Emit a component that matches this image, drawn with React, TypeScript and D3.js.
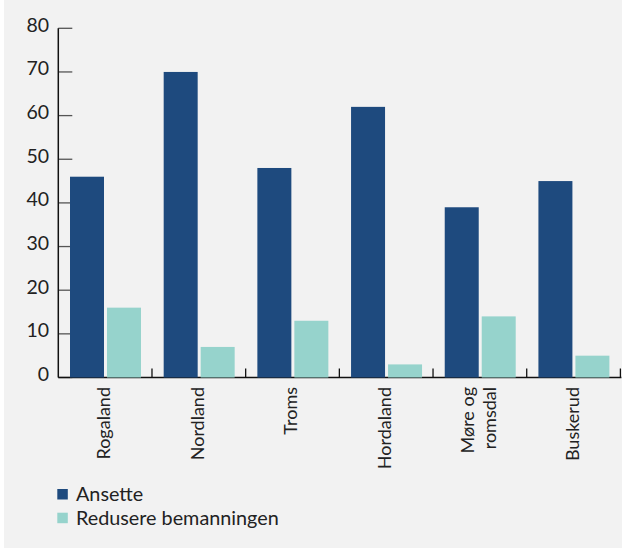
import React from "react";
import * as d3 from "d3";

// Categories (counties) and the two series shown per county
const counties = ["Rogaland", "Nordland", "Troms", "Hordaland", "Møre og romsdal", "Buskerud"];
const countyLines = [["Rogaland"], ["Nordland"], ["Troms"], ["Hordaland"], ["Møre og", "romsdal"], ["Buskerud"]];
const seriesNames = ["Ansette", "Redusere bemanningen"];
const ansette = [46, 70, 48, 62, 39, 45];
const redusere = [16, 7, 13, 3, 14, 5];
const yTicks = [0, 10, 20, 30, 40, 50, 60, 70, 80];
const colors = ["#1e4a7e", "#96d3cc"];

const W = 622;
const H = 549;
const FONT = "Lato, 'DejaVu Sans', sans-serif";

export default function App() {
  const left = 58.3;
  const right = 620.4;
  const top = 28.3;
  const bottom = 377.5;

  const x0 = d3.scaleBand<string>().domain(counties).range([left, right]).padding(0);
  const bw = x0.bandwidth();
  const x1 = d3
    .scaleBand<string>()
    .domain(seriesNames)
    .range([11.7, bw - 11])
    .paddingInner(3 / 37)
    .paddingOuter(0);
  const y = d3.scaleLinear().domain([0, 80]).range([bottom, top]);

  const values = [ansette, redusere];
  const boundaries = counties.map((c) => (x0(c) as number) + bw);

  return (
    <svg
      width={W}
      height={H}
      style={{ position: "absolute", left: 0, top: 0, display: "block" }}
      fontFamily={FONT}
    >
      <rect x={0} y={0} width={W} height={H} fill="#ffffff" />
      <rect x={4} y={0} width={W - 4} height={H - 1} fill="#f2f2f2" />

      {/* y axis ticks pointing into the plot */}
      {yTicks.map((t) => (
        <g key={t}>
          <line x1={left} x2={left + 14} y1={y(t)} y2={y(t)} stroke="#555" strokeWidth={1.3} />
          <text x={49} y={y(t) + 3.5} textAnchor="end" fontSize={19.5} fill="#222">
            {t}
          </text>
        </g>
      ))}

      {/* x axis baseline and category separators */}
      <line x1={left} x2={right + 1} y1={bottom} y2={bottom} stroke="#111" strokeWidth={1.5} />
      {boundaries.map((b, i) => (
        <line key={i} x1={b} x2={b} y1={bottom} y2={bottom - 9} stroke="#111" strokeWidth={1.3} />
      ))}
      <line x1={left} x2={left} y1={top} y2={bottom} stroke="#111" strokeWidth={1.5} />

      {/* bars */}
      {counties.map((c, i) => (
        <g key={c} transform={`translate(${x0(c)},0)`}>
          {seriesNames.map((s, j) => (
            <rect
              key={s}
              x={x1(s)}
              y={y(values[j][i])}
              width={x1.bandwidth()}
              height={y(0) - y(values[j][i])}
              fill={colors[j]}
            />
          ))}
        </g>
      ))}

      {/* rotated category labels */}
      {counties.map((c, i) => {
        const cx = (x0(c) as number) + bw / 2 - 1.5;
        const lines = countyLines[i];
        const spacing = 22;
        return (
          <g key={c} transform={`translate(${cx},387) rotate(-90)`}>
            <text textAnchor="end" fontSize={18} fill="#222">
              {lines.map((ln, k) => (
                <tspan key={k} x={0} y={(k - (lines.length - 1) / 2) * spacing} dy="0.36em">
                  {ln}
                </tspan>
              ))}
            </text>
          </g>
        );
      })}

      {/* legend */}
      {seriesNames.map((s, j) => (
        <g key={s} transform={`translate(57.3,${489 + j * 23.7})`}>
          <rect x={0} y={0} width={10.5} height={10.5} fill={colors[j]} />
          <text x={18.7} y={12} fontSize={19.8} fill="#222">
            {s}
          </text>
        </g>
      ))}
    </svg>
  );
}
